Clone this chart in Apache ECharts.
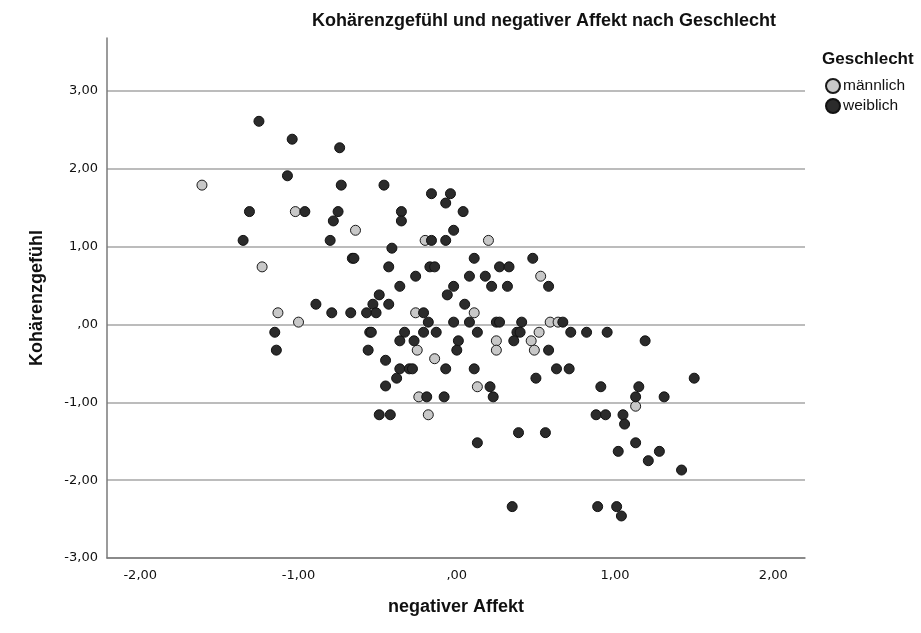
<!DOCTYPE html>
<html>
<head>
<meta charset="utf-8">
<script src="https://cdn.jsdelivr.net/npm/echarts@6/dist/echarts.min.js"></script>
<style>
  html, body { margin: 0; padding: 0; background: #fff; }
  #chart { width: 921px; height: 633px; }
</style>
</head>
<body>
<div id="chart"></div>
<script>
// negativer Affekt (x), Kohärenzgefühl (y)
var maennlich = [
    [-1.61, 1.79], [-1.02, 1.45], [-0.64, 1.21], [-0.20, 1.08], [0.20, 1.08],
    [-1.23, 0.74], [-1.13, 0.15], [-1.00, 0.03], [0.53, 0.62], [-0.26, 0.15],
    [0.11, 0.15], [0.59, 0.03], [0.64, 0.03], [0.52, -0.10], [0.25, -0.21],
    [0.47, -0.21], [-0.25, -0.33], [0.25, -0.33], [0.49, -0.33], [-0.14, -0.44],
    [0.13, -0.80], [-0.24, -0.93], [-0.18, -1.16], [1.13, -1.05]
];

var weiblich = [
    [-1.25, 2.61], [-1.04, 2.38], [-0.74, 2.27], [-1.07, 1.91], [-0.73, 1.79],
    [-0.46, 1.79], [-1.31, 1.45], [-0.96, 1.45], [-0.75, 1.45], [-0.78, 1.33],
    [-1.35, 1.08], [-0.80, 1.08], [-0.41, 0.98], [-0.16, 1.68], [-0.04, 1.68],
    [-0.07, 1.56], [0.04, 1.45], [-0.35, 1.45], [-0.35, 1.33], [-0.02, 1.21],
    [-0.16, 1.08], [-0.07, 1.08], [-0.66, 0.85], [-0.65, 0.85], [-0.43, 0.74],
    [-0.49, 0.38], [-0.53, 0.26], [-0.89, 0.26], [-0.43, 0.26], [-0.79, 0.15],
    [-0.67, 0.15], [-0.57, 0.15], [-0.51, 0.15], [-1.15, -0.10], [-0.55, -0.10],
    [-0.54, -0.10], [-1.14, -0.33], [-0.56, -0.33], [-0.45, -0.46], [-0.45, -0.79],
    [0.11, 0.85], [0.48, 0.85], [-0.17, 0.74], [-0.14, 0.74], [0.27, 0.74],
    [0.33, 0.74], [-0.26, 0.62], [0.08, 0.62], [0.18, 0.62], [-0.36, 0.49],
    [-0.02, 0.49], [0.22, 0.49], [0.32, 0.49], [0.58, 0.49], [-0.06, 0.38],
    [0.05, 0.26], [-0.21, 0.15], [-0.18, 0.03], [-0.02, 0.03], [0.08, 0.03],
    [0.25, 0.03], [0.27, 0.03], [0.41, 0.03], [0.67, 0.03], [-0.33, -0.10],
    [-0.21, -0.10], [-0.13, -0.10], [0.13, -0.10], [0.38, -0.10], [0.40, -0.10],
    [0.72, -0.10], [-0.36, -0.21], [-0.27, -0.21], [0.01, -0.21], [0.36, -0.21],
    [0.00, -0.33], [0.58, -0.33], [-0.36, -0.57], [-0.30, -0.57], [-0.28, -0.57],
    [-0.07, -0.57], [0.11, -0.57], [0.63, -0.57], [0.71, -0.57], [-0.38, -0.69],
    [0.50, -0.69], [0.21, -0.80], [0.82, -0.10], [0.95, -0.10], [1.19, -0.21],
    [1.50, -0.69], [0.91, -0.80], [1.15, -0.80], [-0.19, -0.93], [-0.08, -0.93],
    [0.23, -0.93], [1.13, -0.93], [1.31, -0.93], [-0.49, -1.16], [-0.42, -1.16],
    [0.88, -1.16], [0.94, -1.16], [1.05, -1.16], [1.06, -1.28], [0.39, -1.39],
    [0.56, -1.39], [0.13, -1.52], [1.13, -1.52], [1.02, -1.63], [1.28, -1.63],
    [1.21, -1.75], [1.42, -1.87], [0.35, -2.34], [0.89, -2.34], [1.01, -2.34],
    [1.04, -2.46]
];

var xRange = [-2.21, 2.2];
var yRange = [-3, 3.68];

function deZahl(v) {
    if (Math.abs(v - Math.round(v)) > 1e-6) return '';
    var s = Math.abs(v).toFixed(2).replace('.', ',');
    if (s.charAt(0) == '0') s = s.slice(1);
    return (v < 0 ? '-' : '') + s;
}

var chart = echarts.init(document.getElementById('chart'));

var option = {
    animation: false,
    backgroundColor: '#fff',
    textStyle: {
        fontFamily: 'Liberation Sans, Arial, sans-serif'
    },
    title: [
        {
            text: 'Kohärenzgefühl und negativer Affekt nach Geschlecht',
            left: 312,
            top: 12,
            padding: 0,
            textStyle: {
                fontSize: 18,
                fontWeight: 'bold',
                color: '#111'
            }
        },
        {
            text: 'Geschlecht',
            left: 822,
            top: 51,
            padding: 0,
            textStyle: {
                fontSize: 17,
                fontWeight: 'bold',
                color: '#111'
            }
        }
    ],
    legend: {
        orient: 'vertical',
        left: 825,
        top: 78,
        padding: 0,
        itemWidth: 14,
        itemHeight: 14,
        itemGap: 4,
        icon: 'circle',
        data: ['männlich', 'weiblich'],
        textStyle: {
            fontSize: 15.5,
            color: '#111',
            padding: [0, 0, 0, -2]
        }
    },
    grid: {
        left: 107,
        right: 116,
        top: 38,
        bottom: 75
    },
    xAxis: {
        type: 'value',
        min: xRange[0],
        max: xRange[1],
        name: 'negativer Affekt',
        nameLocation: 'middle',
        nameGap: 40,
        nameTextStyle: {
            fontSize: 18,
            fontWeight: 'bold',
            color: '#111'
        },
        axisLine: {
            onZero: false,
            lineStyle: { color: '#7a7a7a', width: 1.5 }
        },
        axisTick: { show: false },
        splitLine: { show: false },
        axisLabel: {
            margin: 11,
            fontSize: 13,
            fontFamily: 'DejaVu Sans',
            color: '#111',
            showMinLabel: false,
            showMaxLabel: false,
            formatter: deZahl
        }
    },
    yAxis: {
        type: 'value',
        min: yRange[0],
        max: yRange[1],
        interval: 1,
        name: 'Kohärenzgefühl',
        nameLocation: 'middle',
        nameGap: 61,
        nameTextStyle: {
            fontSize: 18,
            fontWeight: 'bold',
            color: '#111'
        },
        axisLine: {
            show: true,
            onZero: false,
            lineStyle: { color: '#7a7a7a', width: 1.5 }
        },
        axisTick: { show: false },
        splitLine: {
            show: true,
            showMaxLine: false,
            lineStyle: { color: '#a6a6a6', width: 1.5 }
        },
        axisLabel: {
            margin: 9,
            fontSize: 13,
            fontFamily: 'DejaVu Sans',
            color: '#111',
            showMaxLabel: false,
            formatter: deZahl
        }
    },
    series: [
        {
            name: 'männlich',
            type: 'scatter',
            symbolSize: 10,
            data: maennlich,
            itemStyle: {
                color: '#c8c8c8',
                borderColor: '#1a1a1a',
                borderWidth: 1,
                opacity: 1
            }
        },
        {
            name: 'weiblich',
            type: 'scatter',
            symbolSize: 10,
            data: weiblich,
            itemStyle: {
                color: '#2b2b2b',
                borderColor: '#111',
                borderWidth: 1,
                opacity: 1
            }
        }
    ]
};

chart.setOption(option);
</script>
</body>
</html>
